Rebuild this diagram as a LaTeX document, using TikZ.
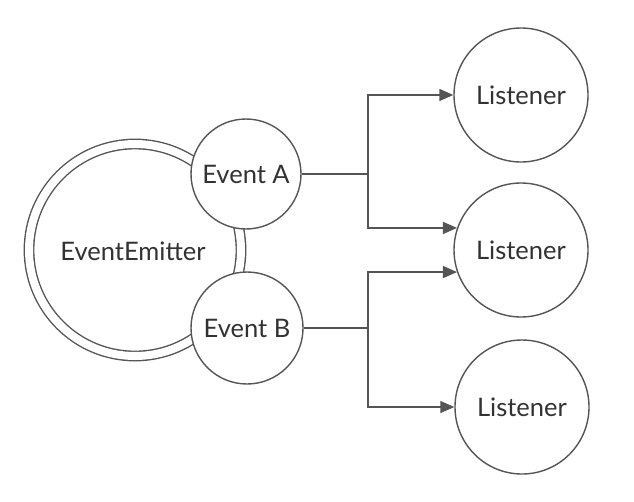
\documentclass[tikz,border=0pt]{standalone}
\usepackage{fontspec}
\setmainfont{Lato}
\usepackage{tikz}
\usetikzlibrary{positioning,arrows.meta}
\definecolor{linegrey}{RGB}{85,85,85}
\definecolor{textgrey}{RGB}{50,50,50}
\tikzset{
  bubble/.style={circle, draw=linegrey, line width=1.4pt, fill=white, inner sep=0pt, text=textgrey, font=\fontsize{25.5}{28}\selectfont},
  link/.style={draw=linegrey, line width=1.4pt},
  feed/.style={link, -{Triangle[length=14pt,width=12pt]}}
}
\begin{document}
\begin{tikzpicture}[x=1pt,y=1pt,yscale=-1,xscale=1]
%set diagram frame to 634 x 501
\useasboundingbox (0,0) rectangle (634,501);

%Shape: Double Circle [id:emitter]
\node[bubble, double=white, double distance=8pt, minimum size=212pt] (emitter) at (135,250) {};
% Text Node
\node[text=textgrey, font=\fontsize{25.5}{28}\selectfont] (emittertext) at (133,251) {EventEmitter};

%Shape: Circle [id:events]
\node[bubble, minimum size=110pt] (evA) at (246,174) {Event A};
\node[bubble, minimum size=112pt] (evB) at (247,328) {Event B};

%Shape: Circle [id:listeners]
\node[bubble, minimum size=134pt] (lisA) at (521,95) {Listener};
\node[bubble, minimum size=134pt] (lisB) at (521,250) {Listener};
\node[bubble, minimum size=134pt] (lisC) at (522,407) {Listener};

% Junctions
\coordinate (jA) at (368,174);
\coordinate (jB) at (368,328);

%Shape: Connectors
\draw[link] (evA.east) -- (jA);
\draw[feed] (jA) |- (lisA.west);
\draw[feed] (jA) |- (lisB.161);
\draw[link] (evB.east) -- (jB);
\draw[feed] (jB) |- (lisB.199);
\draw[feed] (jB) |- (lisC.west);

\end{tikzpicture}
\end{document}
